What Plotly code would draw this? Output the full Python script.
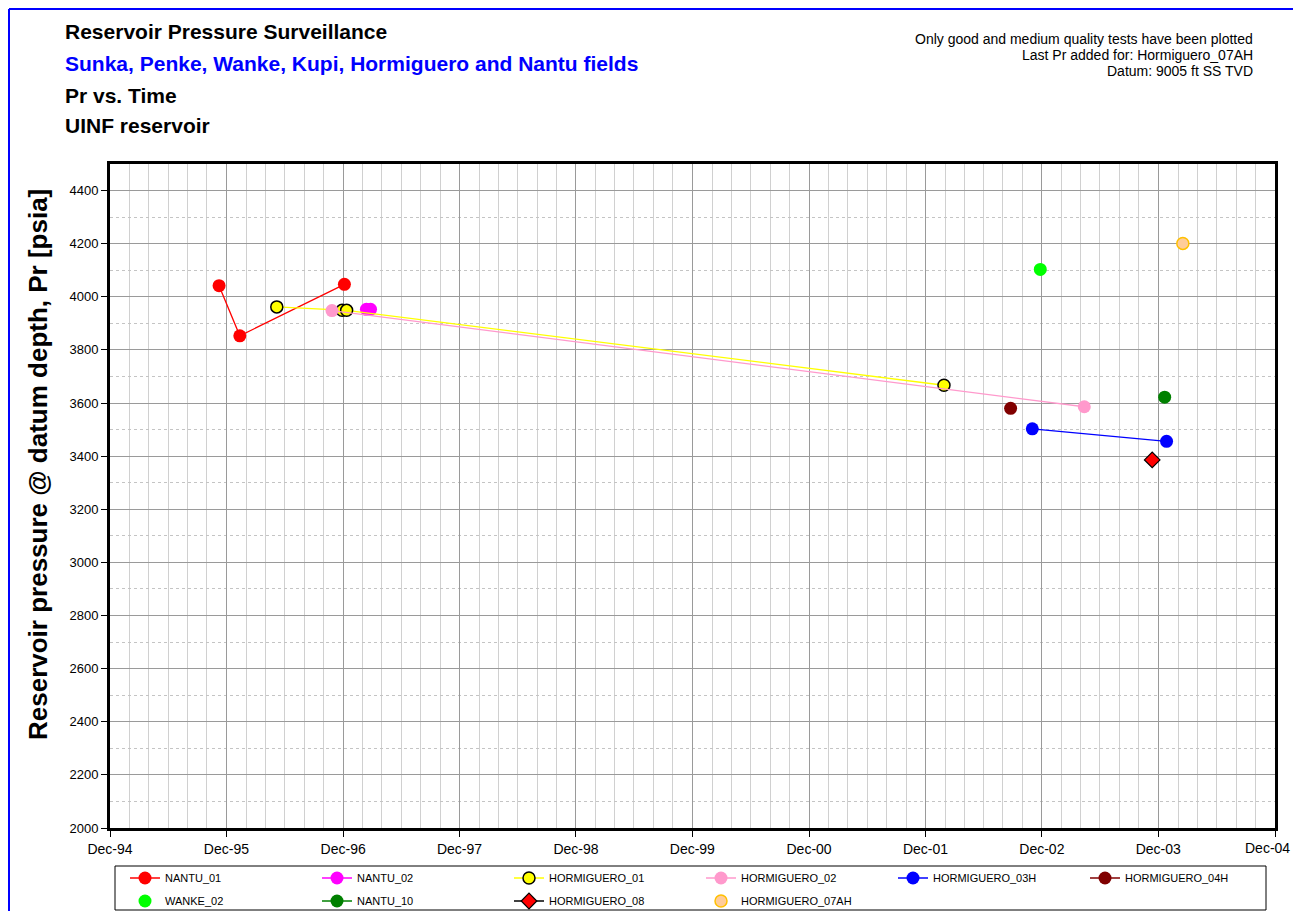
import plotly.graph_objects as go

# ---------------- data ----------------
nantu_01_dates = ["1995-11-08", "1996-01-12", "1996-12-05"]
nantu_01_pr = [4042, 3853, 4047]

nantu_02_dates = ["1997-02-12", "1997-02-25"]
nantu_02_pr = [3953, 3953]

horm_01_dates = ["1996-05-07", "1996-11-28", "1996-12-12", "2002-01-28"]
horm_01_pr = [3962, 3949, 3949, 3667]

horm_02_dates = ["1996-10-27", "2003-04-13"]
horm_02_pr = [3948, 3586]

horm_03h_dates = ["2002-11-01", "2003-12-27"]
horm_03h_pr = [3503, 3456]

horm_04h_dates = ["2002-08-25"]
horm_04h_pr = [3580]

wanke_02_dates = ["2002-11-26"]
wanke_02_pr = [4103]

nantu_10_dates = ["2003-12-21"]
nantu_10_pr = [3622]

horm_08_dates = ["2003-11-12"]
horm_08_pr = [3386]

horm_07ah_dates = ["2004-02-16"]
horm_07ah_pr = [4201]

x_tick_vals = ["1994-12-01", "1995-12-01", "1996-12-01", "1997-12-01", "1998-12-01",
               "1999-12-01", "2000-12-01", "2001-12-01", "2002-12-01", "2003-12-01",
               "2004-12-01"]
x_tick_text = ["Dec-94", "Dec-95", "Dec-96", "Dec-97", "Dec-98", "Dec-99",
               "Dec-00", "Dec-01", "Dec-02", "Dec-03", "Dec-04"]
y_tick_vals = [2000, 2200, 2400, 2600, 2800, 3000, 3200, 3400, 3600, 3800, 4000, 4200, 4400]

FONT = "Arial, Liberation Sans, sans-serif"

# ---------------- layout geometry ----------------
# page body has an 8px margin, so the figure is drawn 8px in from the window edge
OFF = 8
W, H = 1301 - 2 * OFF, 919 - 2 * OFF
# plot area in window (target) pixels
L, R, T, B = 110, 1275, 164, 828
pw, ph = R - L, B - T


def px(xp):
    return (xp - L) / pw


def py(yp):
    return (B - yp) / ph


fig = go.Figure()


def add(name, xs, ys, color, leg, mode="lines+markers", symbol="circle", size=13,
        fill=None, outline=None, owidth=0, lcolor=None):
    fig.add_trace(go.Scatter(
        x=xs, y=ys, name=name, mode=mode, legend=leg,
        line=dict(color=lcolor or color, width=1.3),
        marker=dict(symbol=symbol, size=size, color=fill or color,
                    line=dict(color=outline or color, width=owidth)),
    ))


add("NANTU_01", nantu_01_dates, nantu_01_pr, "#FF0000", "legend")
add("NANTU_02", nantu_02_dates, nantu_02_pr, "#FF00FF", "legend")
add("HORMIGUERO_01", horm_01_dates, horm_01_pr, "#FFFF00", "legend", size=12,
    outline="#000000", owidth=1.5, lcolor="#FFFF00")
add("HORMIGUERO_02", horm_02_dates, horm_02_pr, "#FF99CC", "legend")
add("HORMIGUERO_03H", horm_03h_dates, horm_03h_pr, "#0000FF", "legend")
add("HORMIGUERO_04H", horm_04h_dates, horm_04h_pr, "#800000", "legend")
add("WANKE_02", wanke_02_dates, wanke_02_pr, "#00FF00", "legend2", mode="markers")
add("NANTU_10", nantu_10_dates, nantu_10_pr, "#008000", "legend2")
add("HORMIGUERO_08", horm_08_dates, horm_08_pr, "#FF0000", "legend2", symbol="diamond", size=12,
    outline="#000000", owidth=1.2, lcolor="#000000")
add("HORMIGUERO_07AH", horm_07ah_dates, horm_07ah_pr, "#FFC000", "legend2", mode="markers", size=12,
    fill="#FFCC99", outline="#FFC000", owidth=1.5)

# the last label sits on the page edge; it is drawn as a right-aligned note instead
tick_text_shown = x_tick_text[:-1] + [""]

fig.update_xaxes(
    type="date", range=["1994-12-01", "2004-12-01"],
    tickmode="array", tickvals=x_tick_vals, ticktext=tick_text_shown,
    ticks="outside", ticklen=6, tickcolor="#000000", tickwidth=1,
    showline=True, linecolor="#000000", linewidth=3, mirror=True,
    showgrid=True, gridcolor="#9A9A9A", gridwidth=1,
    minor=dict(dtick="M2", tick0="1994-12-01", showgrid=True, gridcolor="#D0D0D0",
               gridwidth=1, ticks=""),
    tickfont=dict(family=FONT, size=14, color="#000000"),
    zeroline=False,
)
fig.update_yaxes(
    range=[2000, 4500], tickmode="array", tickvals=y_tick_vals,
    ticks="outside", ticklen=6, tickcolor="#000000", tickwidth=1,
    showline=True, linecolor="#000000", linewidth=3, mirror=True,
    showgrid=True, gridcolor="#9A9A9A", gridwidth=1,
    minor=dict(dtick=100, tick0=2000, showgrid=True, gridcolor="#C4C4C4",
               gridwidth=1, griddash="dot", ticks=""),
    tickfont=dict(family=FONT, size=13, color="#000000"),
    zeroline=False,
)

fig.add_annotation(text=x_tick_text[-1], xref="paper", yref="paper", x=px(1292), y=py(848),
                   xanchor="right", yanchor="middle", showarrow=False,
                   font=dict(family=FONT, size=14, color="#000000"))

title_lines = [
    ("<b>Reservoir Pressure Surveillance</b>", 32, "#000000"),
    ("<b>Sunka, Penke, Wanke, Kupi, Hormiguero and Nantu fields</b>", 64, "#0000FF"),
    ("<b>Pr vs. Time</b>", 95, "#000000"),
    ("<b>UINF reservoir</b>", 126, "#000000"),
]
for txt, yy, col in title_lines:
    fig.add_annotation(text=txt, xref="paper", yref="paper", x=px(63), y=py(yy),
                       xanchor="left", yanchor="middle", showarrow=False,
                       font=dict(family=FONT, size=21, color=col))

note_lines = [
    ("Only good and medium quality tests have been plotted", 39),
    ("Last Pr added for: Hormiguero_07AH", 55),
    ("Datum: 9005 ft SS TVD", 71),
]
for txt, yy in note_lines:
    fig.add_annotation(text=txt, xref="paper", yref="paper", x=px(1255), y=py(yy),
                       xanchor="right", yanchor="middle", showarrow=False,
                       font=dict(family=FONT, size=14, color="#000000"))

fig.add_annotation(
    text="<b>Reservoir pressure @ datum depth, Pr [psia]</b>",
    xref="paper", yref="paper", x=px(38), y=py(465), xanchor="center", yanchor="middle",
    textangle=-90, showarrow=False, font=dict(family=FONT, size=26, color="#000000"))

# outer blue frame (left and top edges)
fig.add_shape(type="line", xref="paper", yref="paper", x0=px(9), x1=px(9), y0=py(9), y1=py(919),
              line=dict(color="#0000FF", width=2))
fig.add_shape(type="line", xref="paper", yref="paper", x0=px(9), x1=px(1301), y0=py(9), y1=py(9),
              line=dict(color="#0000FF", width=2))
# legend frame
fig.add_shape(type="rect", xref="paper", yref="paper", x0=px(115), x1=px(1266),
              y0=py(866), y1=py(910), line=dict(color="#000000", width=1),
              fillcolor="rgba(0,0,0,0)")

leg_common = dict(
    orientation="h", xanchor="left", yanchor="middle",
    entrywidth=147, entrywidthmode="pixels",
    borderwidth=0, bgcolor="rgba(0,0,0,0)",
    font=dict(family=FONT, size=11, color="#000000"),
    itemwidth=30, tracegroupgap=0,
)

fig.update_layout(
    width=W, height=H,
    margin=dict(l=L - OFF, r=W - (R - OFF), t=T - OFF, b=H - (B - OFF), pad=0,
                autoexpand=False),
    paper_bgcolor="#FFFFFF", plot_bgcolor="#FFFFFF",
    showlegend=True,
    legend=dict(x=px(125), y=py(878), **leg_common),
    legend2=dict(x=px(125), y=py(901), **leg_common),
    font=dict(family=FONT),
)

fig.write_html("out.html")
